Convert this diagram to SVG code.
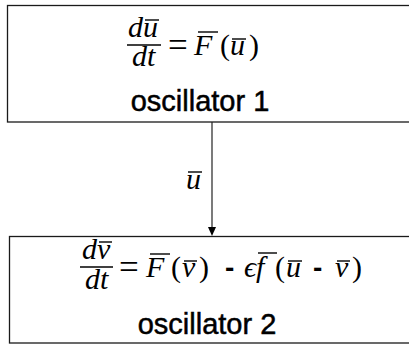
<svg xmlns="http://www.w3.org/2000/svg" width="409" height="354" viewBox="0 0 409 354">
<style>
.box{fill:none;stroke:#1a1a1a;stroke-width:1.3}
.m{font-family:"Liberation Serif","DejaVu Serif",serif;font-size:30px;fill:#000}
.eq{font-family:"Liberation Serif","DejaVu Serif",serif;font-size:35px;fill:#000}
.i{font-style:italic}
.lbl{font-family:"Liberation Sans",Arial,sans-serif;font-size:29px;fill:#000;stroke:#000;stroke-width:0.5}
.ov{stroke:#000;stroke-width:1.4;fill:none}
.bar{stroke:#000;stroke-width:1.4}
.dash{font-family:"Liberation Sans",Arial,sans-serif;font-weight:bold;font-size:28px}
.edge{stroke:#222;stroke-width:1.2;fill:none}
</style>
<g id="oscillator1">
<rect class="box" x="7.5" y="5.5" width="410" height="116.5"/>
<text class="m i" x="128" y="37">d</text>
<text class="m i" x="143" y="37">u</text>
<line class="ov" x1="145" y1="20" x2="159" y2="20"/>
<line class="bar" x1="127" y1="45" x2="161" y2="45"/>
<text class="m i" x="132" y="66">dt</text>
<text class="eq" x="168" y="56.5">=</text>
<text class="m i" x="194" y="55">F</text>
<line class="ov" x1="198" y1="32" x2="218" y2="32"/>
<text class="m" x="220" y="55">(</text>
<text class="m i" x="230" y="55">u</text>
<line class="ov" x1="232" y1="39" x2="246" y2="39"/>
<text class="m" x="249" y="55">)</text>
<text class="lbl" x="200" y="111" text-anchor="middle">oscillator 1</text>
</g>
<g id="oscillator2">
<rect class="box" x="9.5" y="236.5" width="410" height="106.5"/>
<text class="m i" x="82" y="259">d</text>
<text class="m i" x="97" y="259">v</text>
<line class="ov" x1="99" y1="242" x2="112" y2="242"/>
<line class="bar" x1="80" y1="267" x2="113" y2="267"/>
<text class="m i" x="85" y="289">dt</text>
<text class="eq" x="119" y="278.5">=</text>
<text class="m i" x="146" y="277">F</text>
<line class="ov" x1="150" y1="254" x2="170" y2="254"/>
<text class="m" x="171" y="277">(</text>
<text class="m i" x="182" y="277">v</text>
<line class="ov" x1="184" y1="261" x2="197" y2="261"/>
<text class="m" x="199" y="277">)</text>
<text class="dash" x="225" y="277">-</text>
<text class="m i" x="244" y="277">ϵ</text>
<text class="m i" x="256" y="277">f</text>
<line class="ov" x1="258" y1="253" x2="277" y2="253"/>
<text class="m" x="275" y="277">(</text>
<text class="m i" x="286" y="277">u</text>
<line class="ov" x1="288" y1="261" x2="302" y2="261"/>
<text class="dash" x="313" y="277">-</text>
<text class="m i" x="335" y="277">v</text>
<line class="ov" x1="337" y1="261" x2="350" y2="261"/>
<text class="m" x="352" y="277">)</text>
<text class="lbl" x="207" y="334" text-anchor="middle">oscillator 2</text>
</g>
<g id="connectors">
<line class="edge" x1="212" y1="122" x2="212" y2="227"/>
<path d="M208,227 L216,227 L212,236 Z" fill="#000"/>
<text class="m i" x="186" y="189">u</text>
<line class="ov" x1="188" y1="172" x2="202" y2="172"/>
</g>
</svg>
